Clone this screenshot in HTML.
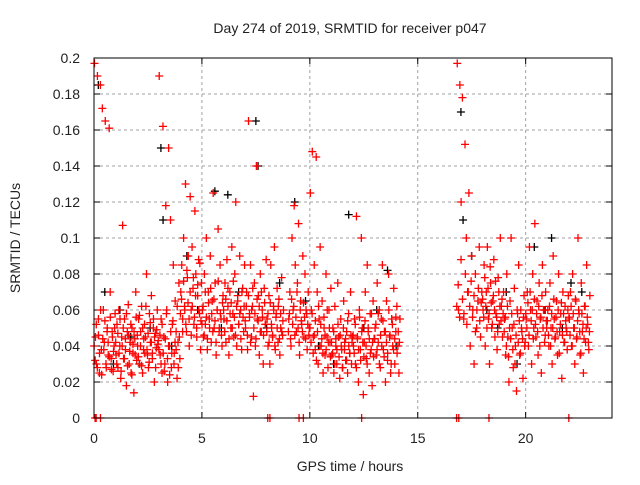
<!DOCTYPE html>
<html><head><meta charset="utf-8"><style>
body{margin:0;background:#fff}
svg text{font-family:"Liberation Sans",sans-serif;font-size:14px;fill:#222}
</style></head><body>
<svg id="chart" width="640" height="480" xmlns="http://www.w3.org/2000/svg">
<text x="350" y="33" text-anchor="middle">Day 274 of 2019, SRMTID for receiver p047</text>
<text transform="translate(20,238) rotate(-90)" text-anchor="middle">SRMTID / TECUs</text>
<text x="350" y="471" text-anchor="middle">GPS time / hours</text>
<g id="grid"></g>
<g id="ticks"></g>
<g id="black"></g>
<g id="red"></g>
<rect x="94" y="58" width="518" height="360" fill="none" stroke="#000" stroke-width="1"/>
</svg>
<script>
const xTicks=[0,5,10,15,20];
const yTicks=[0,0.02,0.04,0.06,0.08,0.1,0.12,0.14,0.16,0.18,0.2];
const yTickLabels=["0","0.02","0.04","0.06","0.08","0.1","0.12","0.14","0.16","0.18","0.2"];
const redSegStart=[0,1,2,3,4,5,6,7,8,9,10,11,12,13,16.8,18,19,20,21,22];
const redSegEnd=[1,2,3,4,5,6,7,8,8.8,10,11,12,13,14.2,18,19,20,21,22,23];
const redSegValues=[
[197,45,30,190,55,25,185,38,172,60,42,165,28,50,35,161,70,33,48,26,40,58],
[35,52,28,60,40,22,45,107,33,55,38,18,48,63,30,42,25,50,36,14,44,70,32],
[40,55,30,48,62,25,38,52,45,80,35,28,58,42,68,33,50,20,47,39,60,43],
[190,35,55,25,162,45,30,118,60,20,150,40,110,28,52,85,36,65,48,22,42,75,33],
[70,85,55,100,62,130,48,78,90,40,123,60,95,72,52,115,80,45,68,88,58,38,75],
[60,45,80,52,100,38,70,55,90,42,65,125,50,75,35,60,105,48,85,55,40,68],
[55,75,42,88,62,35,70,50,95,58,45,80,120,40,65,52,90,60,38,72,48,85],
[50,70,38,165,58,85,45,62,12,75,40,140,55,68,35,80,48,60,30,72,52,88],
[55,40,68,30,85,50,45,62,95,38,58,72,42,66,35,50,78,46,60],
[55,70,40,100,60,118,85,48,75,108,35,65,52,90,45,80,60,38,70,50],
[125,60,148,45,85,38,145,70,30,55,95,40,65,25,50,35,80,45,28,60,42,72],
[35,50,25,62,40,30,75,45,22,55,38,28,65,42,32,48,25,58,36,70,30,45],
[40,55,30,112,45,20,60,38,100,50,13,42,70,33,85,48,25,58,38,18,65,44],
[50,35,75,42,60,28,55,85,38,48,20,65,32,80,45,25,55,40,72,30,48,62,40,25,55],
[197,60,185,120,178,55,152,100,70,125,40,90,60,30,80,50,65,95,45,70],
[60,85,40,70,95,55,30,75,50,65,88,45,58,38,78,52,100,62,45,70],
[55,35,80,45,20,65,100,50,28,72,40,15,58,85,35,60,48,22,68,42],
[55,70,40,95,60,30,80,50,108,45,65,35,75,55,25,85,60,42,70,50],
[60,40,75,50,30,90,55,45,65,35,80,48,58,22,70,42,62,50,38,68],
[55,70,40,80,50,30,65,45,100,58,35,75,48,25,62,42,85,52,38,68]];
const redSegValues2=[
[40,32,52,28,46,36,60,24,44,38,54,30,48,42,34,56,27,45,37,50],
[42,30,47,36,55,26,40,50,33,44,58,29,46,37,52,24,41,48,35,56],
[46,34,57,40,29,50,44,36,62,38,47,31,53,42,36,55,45,28,49,41],
[38,46,30,52,36,26,44,58,33,40,24,48,36,54,30,42,38,62,28,45],
[58,66,48,76,60,52,82,64,55,70,46,62,78,56,68,50,74,60,86,54],
[52,62,46,70,56,44,64,50,72,58,48,66,54,42,60,76,50,58,46,64],
[60,48,66,54,72,44,58,64,50,76,56,46,62,68,52,58,44,70,56,62],
[54,62,46,68,56,42,60,72,50,58,44,66,54,62,48,70,56,46,64,52],
[48,58,42,64,52,46,60,40,56,50,62,44,58,48,54],
[48,58,44,66,52,62,46,56,70,50,42,60,54,48,64,56,44,58,52,46],
[50,42,58,36,46,54,32,48,62,40,52,44,36,56,46,38,60,42,50,34],
[42,36,48,30,44,38,52,34,46,40,28,50,38,44,32,54,40,36,46,42],
[46,36,52,28,44,38,56,32,48,42,34,54,40,30,50,44,36,58,42,34],
[44,52,38,58,30,46,40,54,34,48,42,36,60,46,30,52,38,44,56,36,48,42],
[62,74,56,88,66,58,80,52,70,62,76,56,68,48,60,72,54,64],
[66,56,78,62,50,72,58,84,64,52,68,60,76,56,48,70,62,54,66,58],
[48,56,40,62,34,50,44,58,38,52,30,46,60,42,54,36,50,44,56,40],
[58,50,64,46,70,54,60,44,66,52,58,48,62,40,56,68,50,60,46,54],
[54,46,62,40,58,50,66,44,56,48,60,36,52,64,46,58,42,54,48,60],
[56,46,62,40,58,50,66,44,54,60,48,36,58,52,44,62,50,56,42,48]];
const blackHours=[0.2,0.5,0.9,1.2,1.7,2.1,2.6,3.1,3.2,3.6,4.3,4.8,5.6,5.9,6.2,6.7,7.5,7.6,8.0,8.6,9.3,9.8,10.4,11.1,11.8,12.5,13.1,13.6,14.0,17.0,17.1,17.5,18.2,18.7,19.1,19.6,20.4,20.9,21.2,21.7,22.1,22.6];
const blackValues=[0.185,0.07,0.03,0.06,0.045,0.03,0.05,0.15,0.11,0.04,0.09,0.06,0.126,0.05,0.124,0.07,0.165,0.14,0.05,0.075,0.12,0.065,0.04,0.03,0.113,0.05,0.06,0.082,0.04,0.17,0.11,0.09,0.06,0.05,0.07,0.03,0.095,0.06,0.1,0.05,0.075,0.07];
const zeroHours=[0.05,0.1,0.3,8.05,8.15,9.5,9.7,12.4,16.8,16.9,18.3,22.0];

const NS="http://www.w3.org/2000/svg";
function xs(h){return 94+h*518/24;}
function ys(v){return 418-v*1800;}
function mk(tag,attrs,parent){const e=document.createElementNS(NS,tag);for(const k in attrs)e.setAttribute(k,attrs[k]);parent.appendChild(e);return e;}
const grid=document.getElementById('grid'),ticks=document.getElementById('ticks');
yTicks.forEach((t,i)=>{
  const y=ys(t);
  if(i>0&&i<yTicks.length-1){const g=mk('line',{x1:94,x2:612,y1:y,y2:y,stroke:'#a0a0a0','stroke-dasharray':'3,3'},grid);
  
  }
  mk('line',{x1:94,x2:100,y1:y,y2:y,stroke:'#000'},ticks);
  mk('line',{x1:606,x2:612,y1:y,y2:y,stroke:'#000'},ticks);
  const l=mk('text',{x:80,y:y+5,'text-anchor':'end'},ticks);l.textContent=yTickLabels[i];
  
  
});
xTicks.forEach(t=>{
  const x=xs(t);
  if(t>0){const g=mk('line',{x1:x,x2:x,y1:58,y2:418,stroke:'#a0a0a0','stroke-dasharray':'3,3'},grid);
  
  }
  mk('line',{x1:x,x2:x,y1:412,y2:418,stroke:'#000'},ticks);
  mk('line',{x1:x,x2:x,y1:58,y2:64,stroke:'#000'},ticks);
  const l=mk('text',{x:x,y:443,'text-anchor':'middle'},ticks);l.textContent=String(t);
  
  
});
function plus(parent,x,y,c,name){
  const p=mk('path',{d:`M${x-4},${y}h8M${x},${y-4}v8`,stroke:c,'stroke-width':1.3,fill:'none'},parent);
  
  
}
const bl=document.getElementById('black'),rd=document.getElementById('red');
blackHours.forEach((h,i)=>plus(bl,xs(h),ys(blackValues[i]),'#000','black-point'));
function drawSegs(segs,offset){
  segs.forEach((vals,s)=>{
    const a=redSegStart[s],b=redSegEnd[s];
    vals.forEach((v,i)=>{const h=a+(i+offset)*(b-a)/vals.length;plus(rd,xs(h),ys(v/1000),'#ff0000','red-point');});
  });
}
drawSegs(redSegValues,0.5);
drawSegs(redSegValues2,0.1);
zeroHours.forEach(h=>plus(rd,xs(h),ys(0),'#ff0000','zero-point'));
</script>
</body></html>
